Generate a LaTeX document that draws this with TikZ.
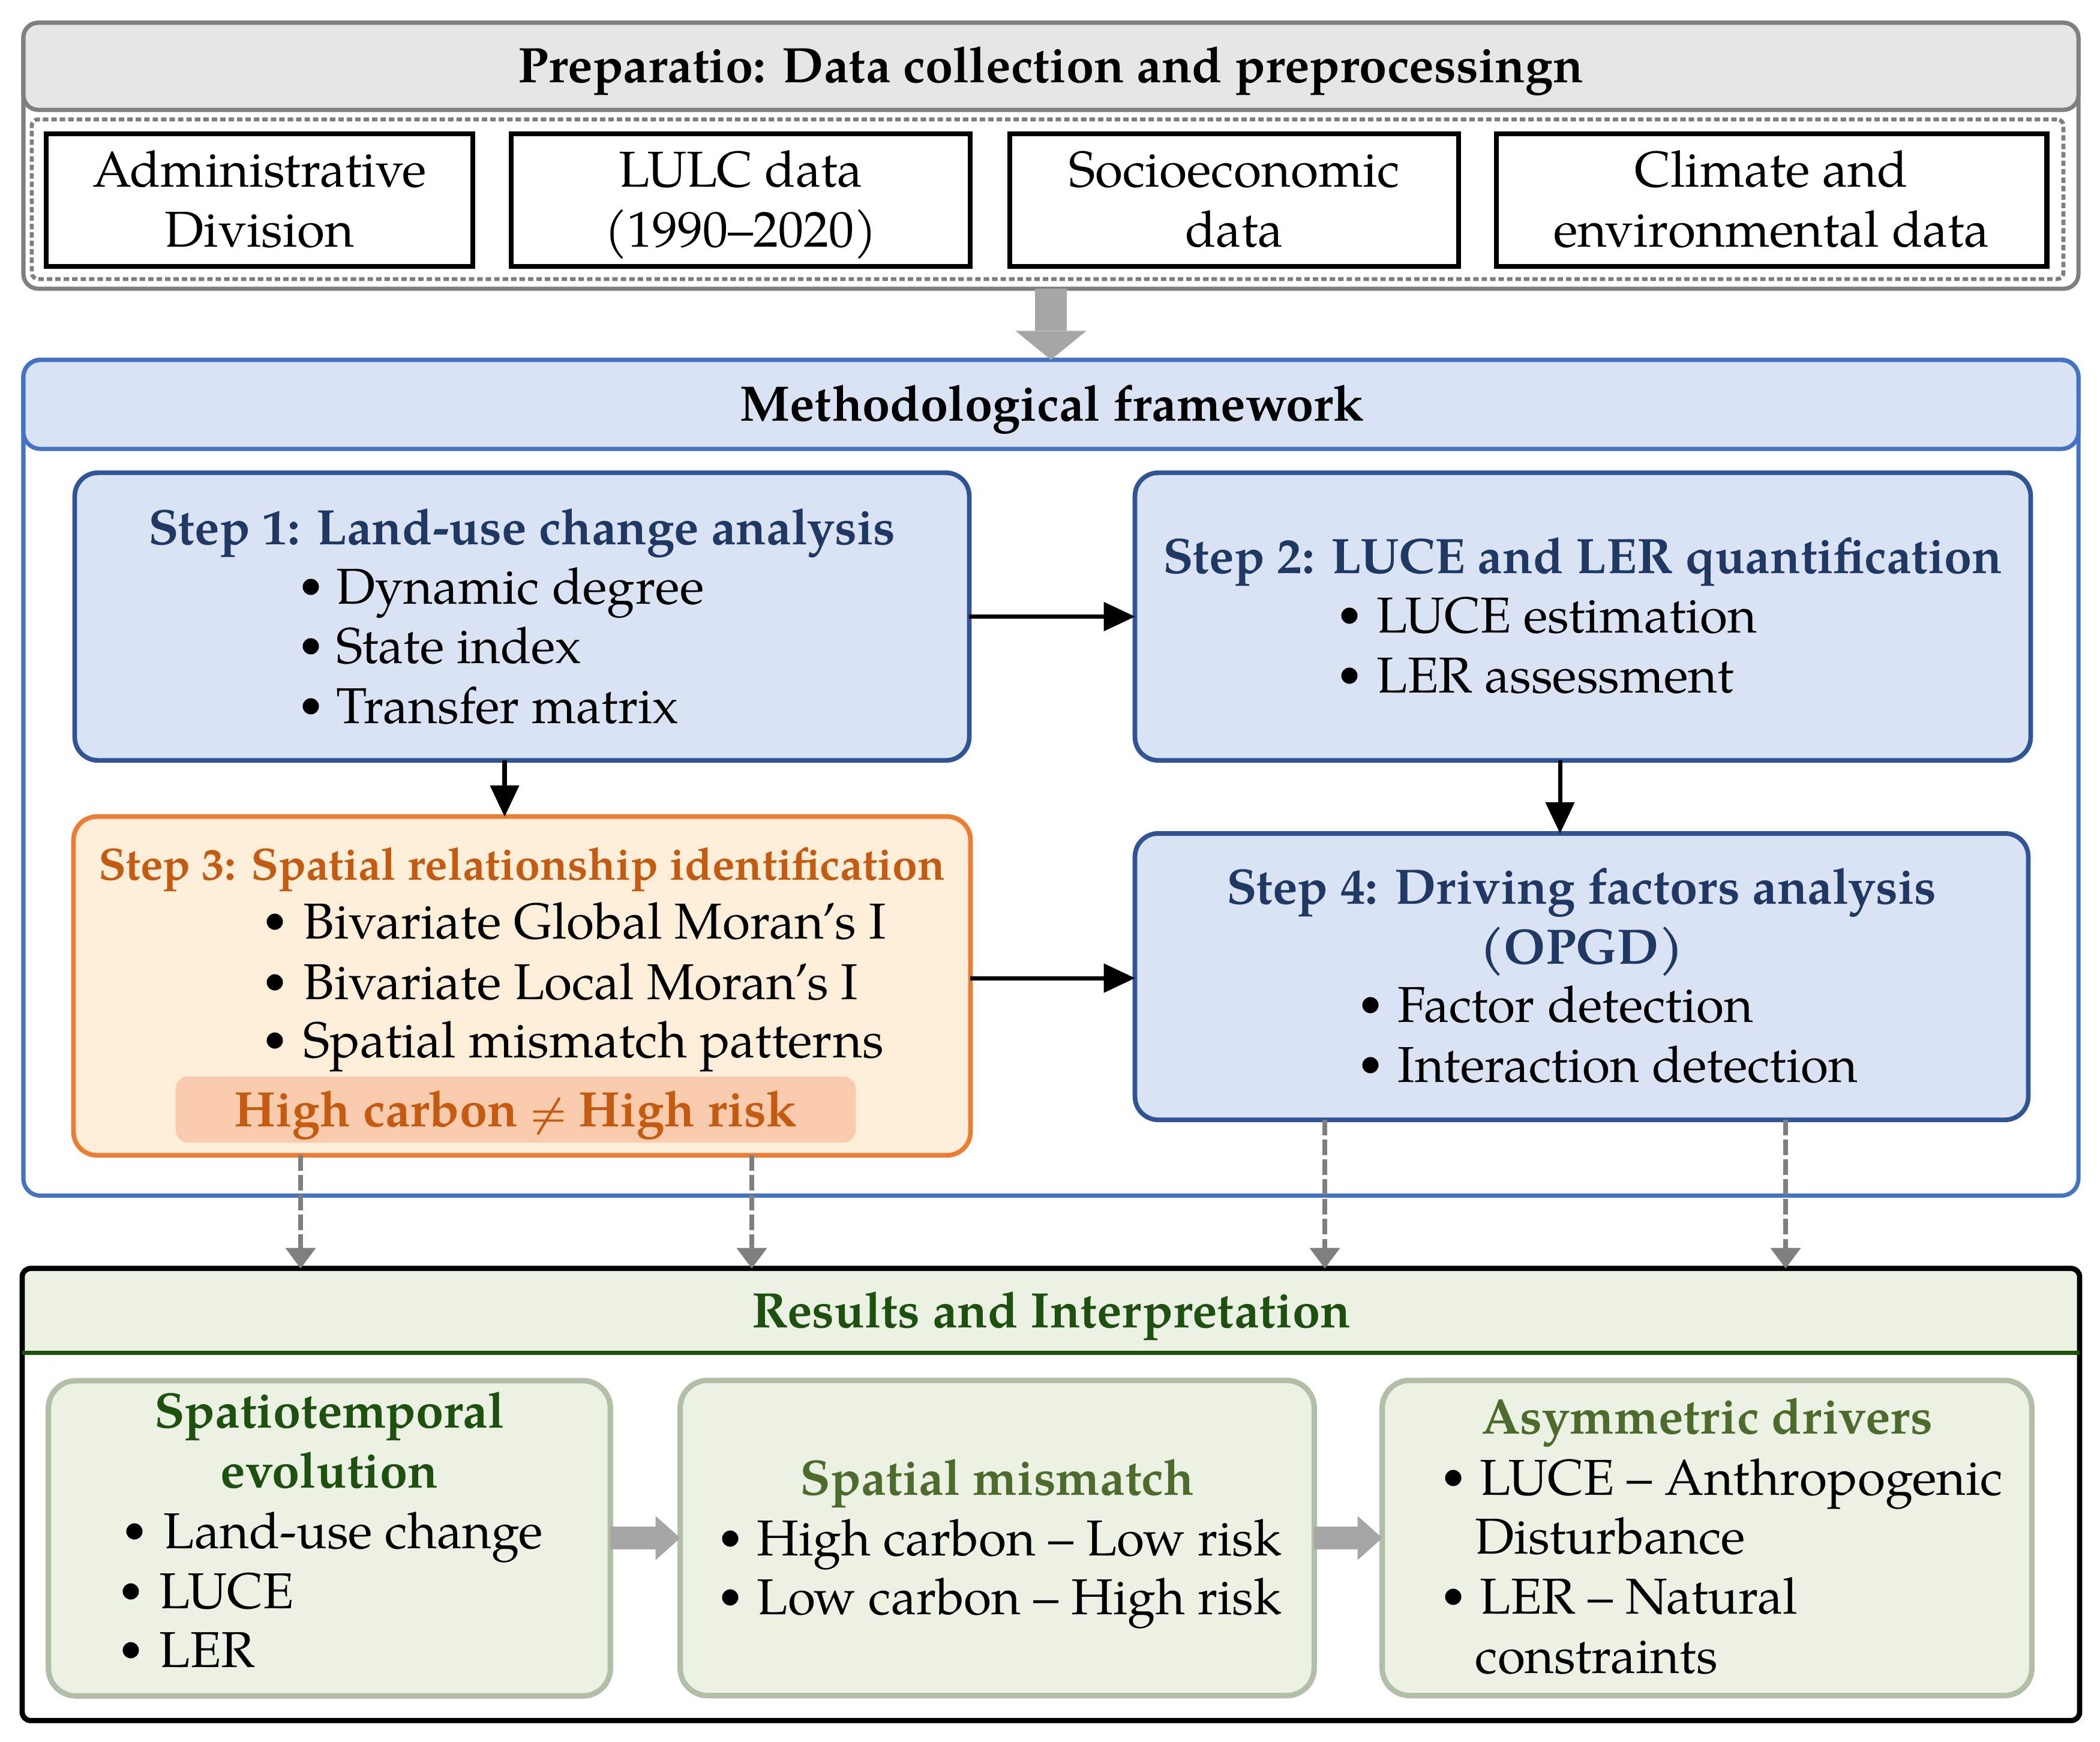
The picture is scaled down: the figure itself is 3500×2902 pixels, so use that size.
\documentclass[tikz,border=0pt]{standalone}
\usepackage{fontspec}
\usepackage{graphicx}
\setmainfont{TeX Gyre Pagella}
\usetikzlibrary{arrows.meta,calc}
\definecolor{brd}{HTML}{7F7F7F}
\definecolor{hdgray}{HTML}{E6E6E6}
\definecolor{arrgray}{HTML}{A6A6A6}
\definecolor{blueout}{HTML}{4472C4}
\definecolor{bluefill}{HTML}{DAE3F3}
\definecolor{bluestep}{HTML}{2F5597}
\definecolor{bluetxt}{HTML}{203864}
\definecolor{orgbrd}{HTML}{ED7D31}
\definecolor{orgfill}{HTML}{FDEEDA}
\definecolor{orghl}{HTML}{F8CBAD}
\definecolor{orgtxt}{HTML}{C55A11}
\definecolor{grnfill}{HTML}{EBF1E3}
\definecolor{grnbrd}{HTML}{B0BFA6}
\definecolor{dkgreen}{HTML}{1E5010}
\definecolor{olive}{HTML}{4C6B2C}
\tikzset{
  shp/.style={inner sep=0pt, outer sep=0pt},
  prepbox/.style={shp, draw=brd, line width=2pt, rounded corners=7pt},
  prephead/.style={shp, draw=brd, fill=hdgray, line width=2pt, rounded corners=7pt},
  dotbox/.style={shp, draw=brd, line width=1.9pt, dash pattern=on 2.6pt off 1.4pt, rounded corners=3pt},
  databox/.style={shp, draw=black, line width=2.4pt},
  methbox/.style={shp, draw=blueout, line width=2pt, rounded corners=8pt},
  methhead/.style={shp, draw=blueout, fill=bluefill, line width=2pt, rounded corners=8pt},
  stepbox/.style={shp, draw=bluestep, fill=bluefill, line width=2.2pt, rounded corners=11pt},
  orgbox/.style={shp, draw=orgbrd, fill=orgfill, line width=2.2pt, rounded corners=11pt},
  hlbox/.style={shp, fill=orghl, rounded corners=6pt},
  resbox/.style={shp, draw=black, line width=2.5pt, rounded corners=4pt},
  reshead/.style={shp, fill=grnfill, rounded corners=4pt},
  subbox/.style={shp, draw=grnbrd, fill=grnfill, line width=2.6pt, rounded corners=13pt},
  ttl/.style={inner sep=0pt, anchor=base, font=\fontsize{23.6}{28.4}\selectfont\bfseries},
  txt/.style={inner sep=0pt, anchor=base},
  itm/.style={inner sep=0pt, anchor=base west},
  bul/.style={circle, fill=black, inner sep=0pt, minimum size=0.27cm},
  bigarrow/.style={draw=arrgray, line width=15pt, -{Triangle[length=13.7pt,width=33.6pt,line width=0pt,color=arrgray]}},
  blockarrow/.style={draw=arrgray, line width=10.8pt, -{Triangle[length=11.7pt,width=21pt,line width=0pt,color=arrgray]}},
  blackarrow/.style={draw=black, line width=2pt, -{Triangle[length=14.8pt,width=14pt,line width=0pt]}},
  dasharrow/.style={draw=brd, line width=2.5pt, dash pattern=on 7.4pt off 2pt, -{Triangle[length=9.7pt,width=14.5pt,line width=0pt,color=brd]}},
}
\begin{document}
\begin{tikzpicture}[x=0.01cm, y=-0.01cm, font=\fontsize{23.9}{28.7}\selectfont]
\useasboundingbox (0,0) rectangle (3500,2902);

% ---------- Preparation ----------
\node[prepbox, minimum width=34.23cm, minimum height=4.43cm] (prep) at (1751.5,259.5) {};
\node[prephead, minimum width=34.23cm, minimum height=1.45cm] (prephd) at (1751.5,110.5) {};
\node[ttl] (preptitle) at (1751.5,137) {Preparatio: Data collection and preprocessingn};
\node[dotbox, minimum width=33.84cm, minimum height=2.66cm] (dots) at (1746,332) {};
\node[databox, minimum width=7.11cm, minimum height=2.21cm] (d1) at (432.5,333.5) {};
\node[databox, minimum width=7.65cm, minimum height=2.21cm] (d2) at (1234.5,333.5) {};
\node[databox, minimum width=7.48cm, minimum height=2.21cm] (d3) at (2057,333.5) {};
\node[databox, minimum width=9.17cm, minimum height=2.21cm] (d4) at (2952.5,333.5) {};
\node[txt] (d1a) at (432.5,311) {Administrative};
\node[txt] (d1b) at (432.5,411) {Division};
\node[txt] (d2a) at (1234.5,311) {LULC data};
\node[txt] (d2b) at (1234.5,411) {(1990--2020)};
\node[txt] (d3a) at (2057,311) {Socioeconomic};
\node[txt] (d3b) at (2057,411) {data};
\node[txt] (d4a) at (2952.5,311) {Climate and};
\node[txt] (d4b) at (2952.5,411) {environmental data};

% ---------- Methodological framework ----------
\node[methbox, minimum width=34.23cm, minimum height=13.92cm] (meth) at (1751.5,1296) {};
\node[methhead, minimum width=34.23cm, minimum height=1.48cm] (methhd) at (1751.5,674) {};
\node[ttl] (methtitle) at (1753,701) {Methodological framework};

\draw[bigarrow] (prep.south) -- (meth.north);

% Step 1
\node[stepbox, minimum width=14.90cm, minimum height=4.79cm] (s1) at (870,1027.5) {};
\node[ttl, text=bluetxt] (s1t) at (870,907) {Step 1: Land-use change analysis};
\node[bul] (b1a) at (518,978) {};
\node[bul] (b1b) at (518,1077) {};
\node[bul] (b1c) at (518,1177) {};
\node[itm] (s1a) at (560,1006) {Dynamic degree};
\node[itm] (s1b) at (560,1105) {State index};
\node[itm] (s1c) at (560,1205) {Transfer matrix};

% Step 2
\node[stepbox, minimum width=14.92cm, minimum height=4.79cm] (s2) at (2638,1027.5) {};
\node[ttl, text=bluetxt] (s2t) at (2638,955) {Step 2: LUCE and LER quantification};
\node[bul] (b2a) at (2249,1026) {};
\node[bul] (b2b) at (2249,1126) {};
\node[itm] (s2a) at (2294,1054) {LUCE estimation};
\node[itm] (s2b) at (2294,1154) {LER assessment};

% Step 3
\node[orgbox, minimum width=14.94cm, minimum height=5.64cm] (s3) at (870,1643) {};
\node[ttl, text=orgtxt, font=\fontsize{21.4}{25.7}\selectfont\bfseries] (s3t) at (870,1466) {Step 3: Spatial relationship identification};
\node[bul] (b3a) at (458,1536) {};
\node[bul] (b3b) at (458,1637) {};
\node[bul] (b3c) at (458,1734) {};
\node[itm] (s3a) at (505,1564) {Bivariate Global Moran's I};
\node[itm] (s3b) at (505,1665) {Bivariate Local Moran's I};
\node[itm] (s3c) at (505,1762) {Spatial mismatch patterns};
\node[hlbox, minimum width=11.33cm, minimum height=1.10cm] (hl) at (859.5,1849) {};
\node[ttl, text=orgtxt] (hlt) at (859.5,1877) {High carbon {\boldmath\scalebox{0.78}{$\neq$}} High risk};

% Step 4
\node[stepbox, minimum width=14.88cm, minimum height=4.77cm] (s4) at (2636,1627.5) {};
\node[ttl, text=bluetxt] (s4t) at (2636,1506) {Step 4: Driving factors analysis};
\node[ttl, text=bluetxt] (s4u) at (2636,1606) {(OPGD)};
\node[bul] (b4a) at (2284,1675) {};
\node[bul] (b4b) at (2284,1775) {};
\node[itm] (s4a) at (2329,1703) {Factor detection};
\node[itm] (s4b) at (2329,1803) {Interaction detection};

% arrows between steps
\coordinate (c13) at (841,0);
\coordinate (c24) at (2600,0);
\coordinate (c34) at (0,1630);
\draw[blackarrow] (s1.east) -- (s2.west);
\draw[blackarrow] (s1.south -| c13) -- (s3.north -| c13);
\draw[blackarrow] (s2.south -| c24) -- (s4.north -| c24);
\draw[blackarrow] (s3.east |- c34) -- (s4.west |- c34);

% ---------- Results ----------
\node[reshead, minimum width=34.27cm, minimum height=1.40cm] (reshd) at (1751.5,2184) {};
\node[resbox, minimum width=34.27cm, minimum height=7.53cm] (res) at (1751.5,2490.5) {};
\draw[dkgreen, line width=2pt] (reshd.south west) -- (reshd.south east);
\node[ttl, text=dkgreen] (restitle) at (1752,2212) {Results and Interpretation};

% dashed arrows
\coordinate (e1) at (501,0);
\coordinate (e2) at (1253,0);
\coordinate (e3) at (2208,0);
\coordinate (e4) at (2976,0);
\draw[dasharrow] (s3.south -| e1) -- (res.north -| e1);
\draw[dasharrow] (s3.south -| e2) -- (res.north -| e2);
\draw[dasharrow] (s4.south -| e3) -- (res.north -| e3);
\draw[dasharrow] (s4.south -| e4) -- (res.north -| e4);

% Result A
\node[subbox, minimum width=9.36cm, minimum height=5.25cm] (rA) at (549,2563.5) {};
\node[ttl, text=dkgreen] (rAt) at (549,2379) {Spatiotemporal};
\node[ttl, text=dkgreen] (rAu) at (549,2479) {evolution};
\node[bul] (bAa) at (224,2552) {};
\node[bul] (bAb) at (218,2652) {};
\node[bul] (bAc) at (218,2750) {};
\node[itm] (rAa) at (272,2580) {Land-use change};
\node[itm] (rAb) at (265,2680) {LUCE};
\node[itm] (rAc) at (265,2778) {LER};

% Result B
\node[subbox, minimum width=10.56cm, minimum height=5.25cm] (rB) at (1662,2563) {};
\node[ttl, text=olive] (rBt) at (1662,2491) {Spatial mismatch};
\node[bul] (bBa) at (1217,2564) {};
\node[bul] (bBb) at (1217,2662) {};
\node[itm] (rBa) at (1261,2592) {High carbon -- Low risk};
\node[itm] (rBb) at (1261,2690) {Low carbon -- High risk};

% Result C
\node[subbox, minimum width=10.82cm, minimum height=5.25cm] (rC) at (2845,2563) {};
\node[ttl, text=olive] (rCt) at (2845,2389) {Asymmetric drivers};
\node[bul] (bCa) at (2422,2463) {};
\node[bul] (bCc) at (2422,2661) {};
\node[itm] (rCa) at (2466,2491) {LUCE -- Anthropogenic};
\node[itm] (rCb) at (2458,2589) {Disturbance};
\node[itm] (rCc) at (2466,2689) {LER -- Natural};
\node[itm] (rCd) at (2458,2788) {constraints};

\draw[blockarrow] (rA.east |- 0,2563) -- (rB.west |- 0,2563);
\draw[blockarrow] (rB.east |- 0,2563) -- (rC.west |- 0,2563);
\end{tikzpicture}
\end{document}
